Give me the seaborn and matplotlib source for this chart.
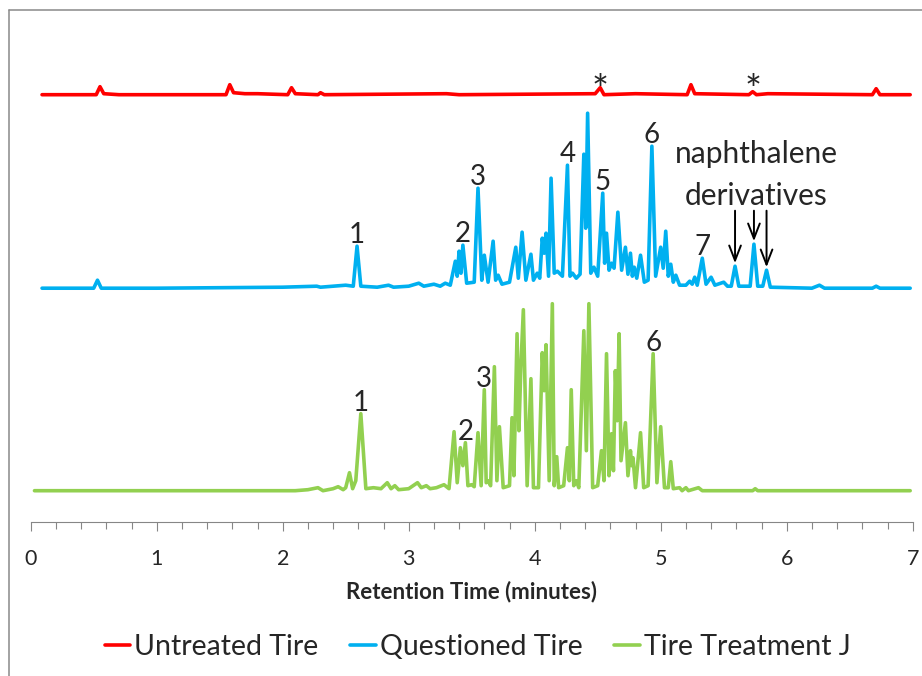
import numpy as np
import pandas as pd
import matplotlib
matplotlib.use('Agg')
import matplotlib.pyplot as plt
from matplotlib.lines import Line2D
import seaborn as sns

# chromatogram readings: retention time (min) and signal above each baseline
red_time = [0.09, 0.52, 0.55, 0.58, 0.70, 1.55, 1.58, 1.61, 1.70, 1.80,
            2.04, 2.07, 2.10, 2.28, 2.30, 2.33, 3.30, 3.40, 4.48, 4.52,
            4.55, 4.80, 5.21, 5.24, 5.27, 5.70, 5.73, 5.76, 5.85, 6.68,
            6.71, 6.74, 6.98]
red_signal = [0, 0, 8, 1, 0, 0, 10, 2, 1, 1,
              0, 7, 1, 0, 2, 0, 1, 0, 1, 7,
              0, 1, 0, 10, 1, 0, 3, 0, 1, 0,
              6, 0, 0]

blue_time = [0.09, 0.50, 0.53, 0.56, 1.00, 2.00, 2.27, 2.30, 2.50, 2.56,
             2.59, 2.62, 2.75, 2.84, 2.88, 3.00, 3.08, 3.12, 3.20, 3.25,
             3.29, 3.33, 3.37, 3.385, 3.40, 3.415, 3.43, 3.46, 3.52, 3.55,
             3.58, 3.60, 3.63, 3.67, 3.69, 3.71, 3.74, 3.80, 3.85, 3.87,
             3.90, 3.93, 3.97, 3.99, 4.02, 4.04, 4.06, 4.075, 4.09, 4.11,
             4.13, 4.155, 4.18, 4.22, 4.26, 4.28, 4.30, 4.33, 4.36, 4.39,
             4.405, 4.42, 4.445, 4.47, 4.50, 4.54, 4.555, 4.57, 4.59, 4.61,
             4.63, 4.66, 4.69, 4.72, 4.74, 4.76, 4.775, 4.79, 4.81, 4.84,
             4.87, 4.90, 4.93, 4.96, 5.00, 5.02, 5.04, 5.06, 5.08, 5.10,
             5.12, 5.15, 5.20, 5.23, 5.25, 5.27, 5.29, 5.33, 5.36, 5.40,
             5.43, 5.50, 5.53, 5.56, 5.59, 5.62, 5.71, 5.74, 5.77, 5.81,
             5.84, 5.87, 6.20, 6.26, 6.30, 6.68, 6.71, 6.74, 6.98]
blue_signal = [0, 0, 8, 0, 0, 1, 2, 1, 3, 2,
               42, 2, 1, 3, 1, 2, 5, 2, 4, 2,
               5, 3, 27, 12, 37, 15, 43, 5, 6, 100,
               8, 33, 6, 47, 8, 13, 4, 6, 41, 10,
               56, 8, 34, 8, 15, 10, 50, 35, 55, 12,
               110, 15, 17, 12, 123, 12, 15, 10, 14, 134,
               60, 175, 15, 21, 12, 95, 25, 55, 18, 25,
               20, 76, 18, 41, 14, 35, 12, 21, 10, 33,
               6, 8, 142, 12, 41, 20, 57, 12, 24, 6,
               13, 3, 3, 7, 4, 11, 3, 30, 4, 11,
               3, 6, 2, 2, 22, 2, 2, 44, 2, 2,
               18, 1, 0, 3, 0, 0, 2, 0, 0]

green_time = [0.03, 2.10, 2.20, 2.28, 2.32, 2.40, 2.44, 2.48, 2.50, 2.53,
              2.555, 2.58, 2.62, 2.66, 2.72, 2.78, 2.83, 2.86, 2.89, 2.92,
              3.00, 3.07, 3.10, 3.14, 3.17, 3.22, 3.28, 3.32, 3.36, 3.385,
              3.41, 3.43, 3.45, 3.47, 3.50, 3.52, 3.55, 3.575, 3.60, 3.615,
              3.63, 3.65, 3.68, 3.70, 3.72, 3.75, 3.80, 3.82, 3.835, 3.86,
              3.875, 3.89, 3.91, 3.94, 3.97, 3.99, 4.03, 4.06, 4.075, 4.09,
              4.115, 4.14, 4.155, 4.175, 4.19, 4.23, 4.26, 4.275, 4.29, 4.31,
              4.33, 4.35, 4.39, 4.41, 4.43, 4.46, 4.50, 4.53, 4.55, 4.57,
              4.59, 4.61, 4.625, 4.64, 4.655, 4.67, 4.685, 4.72, 4.74, 4.76,
              4.77, 4.78, 4.80, 4.84, 4.865, 4.90, 4.94, 4.97, 5.00, 5.03,
              5.06, 5.08, 5.10, 5.15, 5.17, 5.20, 5.22, 5.30, 5.33, 5.73,
              5.75, 5.77, 6.98]
green_signal = [0, 0, 1, 3, 0, 2, 4, 1, 3, 18,
                2, 10, 77, 2, 3, 2, 8, 2, 5, 1,
                2, 8, 3, 5, 2, 3, 6, 2, 59, 8,
                43, 25, 48, 5, 6, 4, 58, 5, 101, 8,
                10, 5, 124, 10, 64, 3, 5, 73, 15, 157,
                60, 123, 181, 5, 112, 3, 3, 138, 100, 146,
                10, 187, 5, 34, 3, 5, 43, 10, 101, 5,
                10, 3, 160, 40, 187, 3, 5, 40, 10, 137,
                15, 57, 20, 120, 70, 157, 30, 68, 15, 40,
                25, 33, 3, 58, 3, 5, 137, 8, 64, 3,
                3, 29, 2, 3, 0, 3, 0, 3, 0, 0,
                2, 0, 0]

trace_names = ['Untreated Tire', 'Questioned Tire', 'Tire Treatment J']
trace_colors = ['#FF0000', '#00B0F0', '#92D050']

# numbered peaks
blue_labels = ['1', '2', '3', '4', '5', '6', '7']
blue_label_time = [2.59, 3.43, 3.55, 4.26, 4.54, 4.93, 5.33]
green_labels = ['1', '2', '3', '6']
green_label_time = [2.62, 3.45, 3.60, 4.94]
star_time = [4.52, 5.73]
naph_time = [5.59, 5.74, 5.84]

# vertical stacking of the three runs
offsets = [427, 233.5, 31]

df = pd.concat([
    pd.DataFrame({'time': red_time, 'signal': np.array(red_signal) + offsets[0], 'trace': trace_names[0]}),
    pd.DataFrame({'time': blue_time, 'signal': np.array(blue_signal) + offsets[1], 'trace': trace_names[1]}),
    pd.DataFrame({'time': green_time, 'signal': np.array(green_signal) + offsets[2], 'trace': trace_names[2]}),
])

sns.set_theme(style='white')
plt.rcParams['font.family'] = ['Lato', 'DejaVu Sans']

fig = plt.figure(figsize=(9.22, 6.76), dpi=100)
ax = fig.add_axes([30.7/922, 1 - 521.7/676, 882/922, 511.7/676])

sns.lineplot(data=df, x='time', y='signal', hue='trace', hue_order=trace_names,
             palette=trace_colors, sort=False, estimator=None, linewidth=2.6, ax=ax)

ax.set_xlim(0, 7)
ax.set_ylim(0, 511.7)
ax.set_xticks(range(8))
ax.set_xticks(np.arange(0, 7.01, 0.2), minor=True)
ax.set_yticks([])
for s in ['left', 'right', 'top']:
    ax.spines[s].set_visible(False)
ax.spines['bottom'].set_color('#868686')
ax.spines['bottom'].set_linewidth(0.8)
ax.tick_params(axis='x', which='major', direction='out', length=6.5, width=0.8,
               color='#868686', labelsize=15.5, pad=13, bottom=True)
ax.tick_params(axis='x', which='minor', direction='out', length=5, width=0.8,
               color='#868686', bottom=True)
ax.set_ylabel('')
ax.set_xlabel('Retention Time (minutes)', fontsize=16, fontweight='bold')
ax.xaxis.set_label_coords(0.5, -0.116)


def peak_height(times, signals, t):
    i = int(np.argmin(np.abs(np.array(times) - t)))
    return signals[i]


for lab, t in zip(blue_labels, blue_label_time):
    ax.text(t, offsets[1] + peak_height(blue_time, blue_signal, t) + 3, lab,
            ha='center', va='baseline', fontsize=20)
for lab, t in zip(green_labels, green_label_time):
    ax.text(t, offsets[2] + peak_height(green_time, green_signal, t) + 3, lab,
            ha='center', va='baseline', fontsize=20)
for t in star_time:
    ax.text(t, offsets[0] - 9, '*', ha='center', va='baseline', fontsize=29)

ax.text(5.756, 358.7, 'naphthalene', ha='center', va='baseline', fontsize=21.5)
ax.text(5.756, 316.7, 'derivatives', ha='center', va='baseline', fontsize=21.5)
for t in naph_time:
    tip = offsets[1] + peak_height(blue_time, blue_signal, t) + 3
    ax.annotate('', xy=(t, tip), xytext=(t, 311),
                arrowprops=dict(arrowstyle='->,head_length=0.9,head_width=0.35',
                                lw=1.4, color='black', shrinkA=0, shrinkB=0))

handles, labels = ax.get_legend_handles_labels()
ax.legend(handles, labels, loc='center', bbox_to_anchor=(0.518, 0.043),
          bbox_transform=fig.transFigure, ncol=3, frameon=False, fontsize=20.5,
          handlelength=0.9, handletextpad=0.15, columnspacing=1.1)

# chart area border (left and top edges visible in the crop)
fig.add_artist(Line2D([9/922, 9/922], [0, 1 - 10/676], transform=fig.transFigure,
                      color='#898989', lw=1.1))
fig.add_artist(Line2D([9/922, 1], [1 - 10/676, 1 - 10/676], transform=fig.transFigure,
                      color='#898989', lw=1.1))

fig.savefig('out.png', dpi=100)
